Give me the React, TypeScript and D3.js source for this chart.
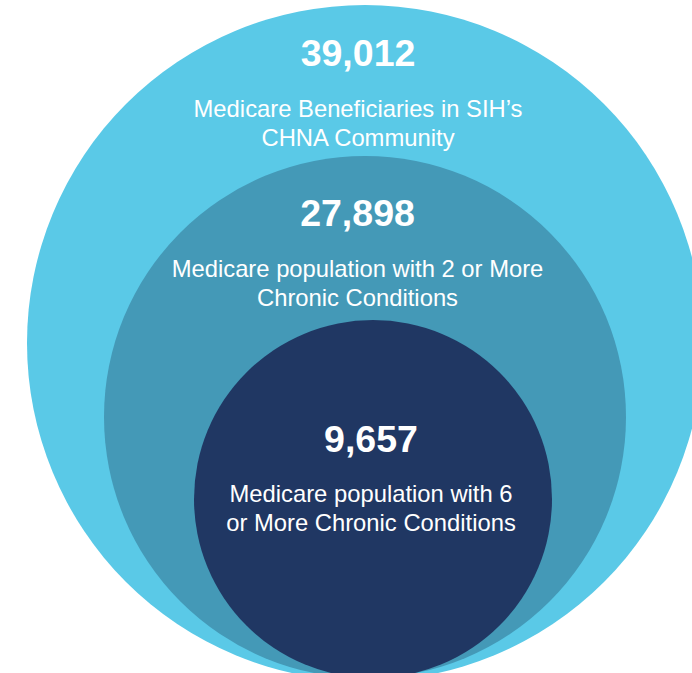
import React from "react";
import * as d3 from "d3";

const values = [39012, 27898, 9657];
const labelLines = [
  ["Medicare Beneficiaries in SIH’s", "CHNA Community"],
  ["Medicare population with 2 or More", "Chronic Conditions"],
  ["Medicare population with 6", "or More Chronic Conditions"],
];
const colors = ["#5ac9e7", "#4499b7", "#203763"];

// layout (design geometry, not data)
const W = 692;
const H = 673;
const circles = [
  { cx: 365, cy: 343, r: 338 },
  { cx: 365, cy: 417, r: 261 },
  { cx: 373, cy: 499, r: 179 },
];
const textLayout = [
  { x: 358, numY: 66, lineY: 117 },
  { x: 357.5, numY: 226, lineY: 277 },
  { x: 371, numY: 452, lineY: 502 },
];

export default function App() {
  const fmt = d3.format(",");
  React.useEffect(() => {
    document.body.style.margin = "0";
  }, []);
  return (
    <svg
      width={W}
      height={H}
      style={{ position: "absolute", left: 0, top: 0, display: "block" }}
      fontFamily="'Liberation Sans', Arial, sans-serif"
    >
      <rect width={W} height={H} fill="#ffffff" />
      {circles.map((c, i) => (
        <circle key={i} cx={c.cx} cy={c.cy} r={c.r} fill={colors[i]} />
      ))}
      {values.map((v, i) => (
        <g key={"t" + i} fill="#ffffff" textAnchor="middle">
          <text x={textLayout[i].x} y={textLayout[i].numY} fontSize={37.5} fontWeight="bold">
            {fmt(v)}
          </text>
          {labelLines[i].map((ln, j) => (
            <text key={j} x={textLayout[i].x} y={textLayout[i].lineY + j * 29} fontSize={23.8}>
              {ln}
            </text>
          ))}
        </g>
      ))}
    </svg>
  );
}
